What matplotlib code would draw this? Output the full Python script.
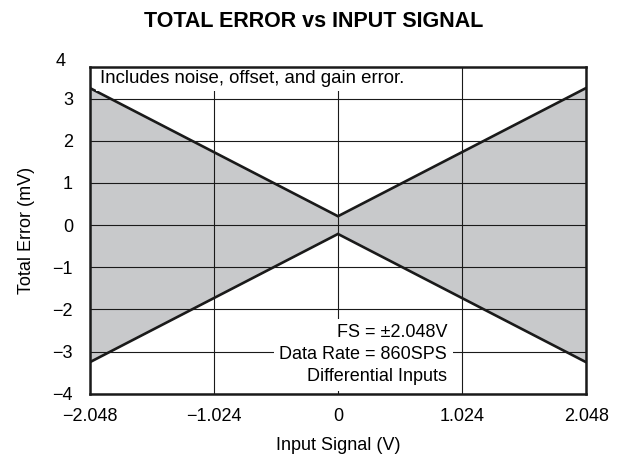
import matplotlib
matplotlib.use('Agg')
import matplotlib.pyplot as plt

plt.rcParams['font.family'] = ['Liberation Sans', 'DejaVu Sans']

# error envelope vs input signal
x_v = [-2.048, 0.0, 2.048]
err_hi = [3.25, 0.21, 3.25]
err_lo = [-3.25, -0.21, -3.25]

x_ticks = [-2.048, -1.024, 0.0, 1.024, 2.048]
x_labels = ['\u22122.048', '\u22121.024', '0', '1.024', '2.048']
y_ticks = [-4, -3, -2, -1, 0, 1, 2, 3]
y_labels = ['\u22124', '\u22123', '\u22122', '\u22121', '0', '1', '2', '3']

fig = plt.figure(figsize=(6.19, 4.58), dpi=100)
ax = fig.add_axes([0.145, 0.140, 0.802, 0.714])

ax.fill_between(x_v, err_lo, err_hi, color='#c8c9cb', lw=0, zorder=1)
ax.plot(x_v, err_hi, color='#1a1a1a', lw=1.9, zorder=3, solid_joinstyle='miter')
ax.plot(x_v, err_lo, color='#1a1a1a', lw=1.9, zorder=3, solid_joinstyle='miter')

ax.set_xlim(-2.048, 2.048)
ax.set_ylim(-4, 3.75)
ax.set_xticks(x_ticks, x_labels)
ax.set_yticks(y_ticks, y_labels)
ax.tick_params(length=0, labelsize=13)
ax.tick_params(axis='y', pad=12)
ax.tick_params(axis='x', pad=10)
ax.grid(True, color='#1a1a1a', lw=0.8, zorder=2)
ax.set_axisbelow(False)
for s in ax.spines.values():
    s.set_linewidth(1.8)
    s.set_color('#1a1a1a')
    s.set_zorder(5)

# the "4" tick sits just above the frame in the reference
ax.text(-0.048, 3.88, '4', transform=ax.get_yaxis_transform(),
        ha='right', va='center', fontsize=13, clip_on=False)

ax.set_xlabel('Input Signal (V)', fontsize=13, labelpad=9)
ax.set_ylabel('Total Error (mV)', fontsize=13, labelpad=13)
fig.text(0.506, 0.952, 'TOTAL ERROR vs INPUT SIGNAL', ha='center', va='center',
         fontsize=15.5, fontweight='bold')

ax.text(-1.963, 3.47, 'Includes noise, offset, and gain error.', fontsize=13.4,
        ha='left', va='center', zorder=4,
        bbox=dict(facecolor='white', edgecolor='none', pad=3))
ax.text(0.9, -3.07, 'FS = \u00b12.048V\nData Rate = 860SPS\nDifferential Inputs',
        fontsize=13, ha='right', va='center', linespacing=1.38, zorder=4,
        bbox=dict(facecolor='white', edgecolor='none', pad=4))

fig.savefig('out.png', dpi=100)
